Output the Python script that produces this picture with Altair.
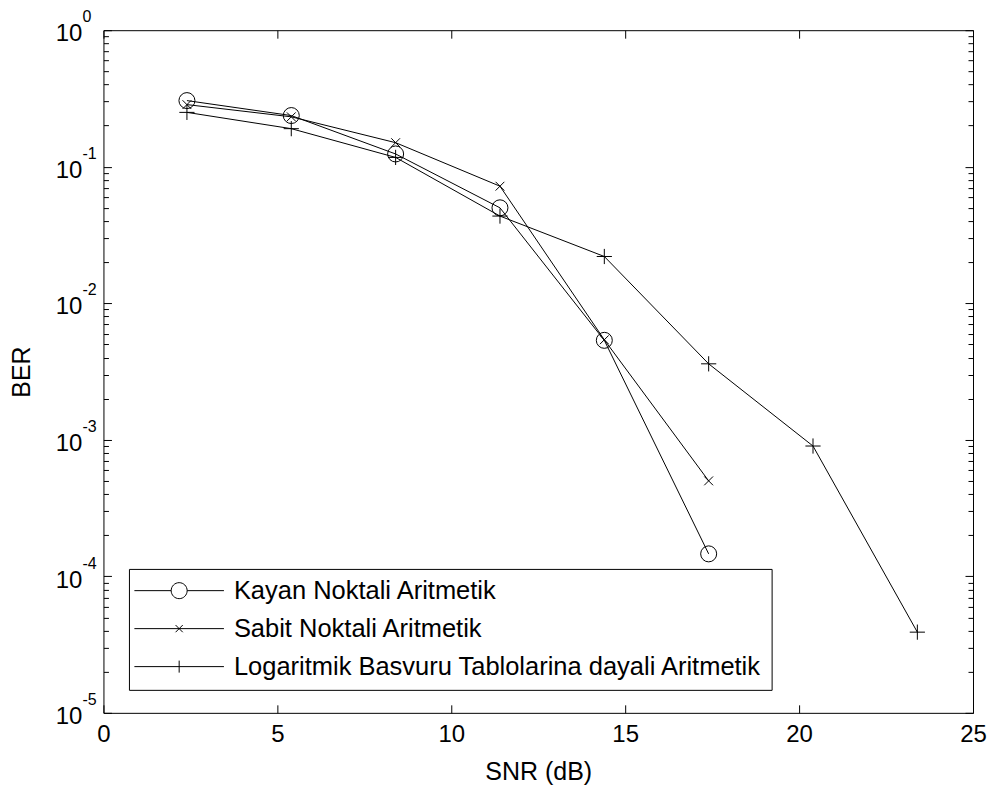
import altair as alt
import pandas as pd

# ---------------- data ----------------
series_names = [
    "Kayan Noktali Aritmetik",
    "Sabit Noktali Aritmetik",
    "Logaritmik Basvuru Tablolarina dayali Aritmetik",
]
snr_kayan = [2.4, 5.4, 8.4, 11.4, 14.4, 17.4]
ber_kayan = [0.305, 0.237, 0.124, 0.0500, 0.00535, 0.000146]
snr_sabit = [2.4, 5.4, 8.4, 11.4, 14.4, 17.4]
ber_sabit = [0.285, 0.232, 0.150, 0.0720, 0.0054, 0.00050]
snr_log = [2.4, 5.4, 8.4, 11.4, 14.4, 17.4, 20.4, 23.4]
ber_log = [0.250, 0.190, 0.117, 0.0435, 0.0220, 0.00360, 0.00090, 0.000039]

x_ticks = [0, 5, 10, 15, 20, 25]
y_decades = [1, 0.1, 0.01, 0.001, 0.0001, 0.00001]
y_exponents = ["0", "-1", "-2", "-3", "-4", "-5"]
y_minor = [m * d for d in [0.1, 0.01, 0.001, 0.0001, 0.00001] for m in range(1, 10)] + [1]

rows = []
for name, xs, ys in zip(series_names, [snr_kayan, snr_sabit, snr_log], [ber_kayan, ber_sabit, ber_log]):
    for xv, yv in zip(xs, ys):
        rows.append({"series": name, "snr": xv, "ber": yv})
df = pd.DataFrame(rows)

FONT = "Liberation Sans"
W, H = 870, 683

# marker shapes (unit = sqrt(size)/2 px)
marker_paths = [
    "circle",
    "M-0.55,-0.55L0.55,0.55M-0.55,0.55L0.55,-0.55",
    "M-0.95,0L0.95,0M0,-0.95L0,0.95",
]
legend_paths = [
    "M-5.6,0L-1,0M1,0L5.6,0M1,0A1,1,0,1,1,-1,0A1,1,0,1,1,1,0",
    "M-5.6,0L5.6,0M-0.45,-0.45L0.45,0.45M-0.45,0.45L0.45,-0.45",
    "M-5.6,0L5.6,0M0,-0.75L0,0.75",
]

x_scale = alt.Scale(domain=[0, 25], nice=False, zero=False)
y_scale = alt.Scale(type="log", domain=[0.00001, 1], nice=False)

decade_test = "abs(log(datum.value)/LN10 - round(log(datum.value)/LN10)) < 0.000001"
exp_expr = " : ".join(
    f"abs(datum.value - {v}) < {v}*0.001 ? '{e}'" for v, e in zip(y_decades, y_exponents)
) + " : ''"

base = alt.Chart(df)

lines = base.mark_line(color="black", strokeWidth=1).encode(
    x=alt.X(
        "snr:Q",
        scale=x_scale,
        axis=alt.Axis(
            orient="bottom",
            values=x_ticks,
            format="d",
            ticks=False,
            tickSize=0,
            domain=False,
            grid=True,
            gridColor="black",
            gridOpacity=1,
            gridWidth=1,
            gridDash=[8, H - 16, 8, 3000],
            labelFont=FONT,
            labelFontSize=24,
            labelColor="black",
            labelPadding=29,
            labelBaseline="alphabetic",
            labelFlush=False,
            labelOverlap=False,
            title="SNR (dB)",
            titleFont=FONT,
            titleFontSize=25,
            titleFontWeight="normal",
            titleColor="black",
            titleX=W / 2,
            titleY=67,
            titleAlign="center",
            titleBaseline="alphabetic",
        ),
    ),
    y=alt.Y(
        "ber:Q",
        scale=y_scale,
        axis=alt.Axis(
            orient="left",
            values=y_minor,
            labels=False,
            ticks=False,
            tickSize=0,
            domain=False,
            grid=True,
            gridColor="black",
            gridOpacity=1,
            gridWidth=1,
            gridDash={
                "condition": {"test": decade_test, "value": [8, W - 16, 8, 3000]},
                "value": [5, W - 10, 5, 3000],
            },
            title="BER",
            titleFont=FONT,
            titleFontSize=25,
            titleFontWeight="normal",
            titleColor="black",
            titleAngle=270,
            titleX=-74,
            titleY=H / 2,
            titleAlign="center",
            titleBaseline="alphabetic",
        ),
    ),
    detail="series:N",
)

markers = base.mark_point(filled=False, color="black", size=256, strokeWidth=1, opacity=1).encode(
    x=alt.X("snr:Q", scale=x_scale, axis=None),
    y=alt.Y(
        "ber:Q",
        scale=y_scale,
        axis=alt.Axis(
            orient="left",
            values=y_decades,
            labelExpr="'10'",
            ticks=False,
            tickSize=0,
            domain=False,
            grid=False,
            labelFont=FONT,
            labelFontSize=24,
            labelColor="black",
            labelPadding=21.5,
            labelAlign="right",
            labelBaseline="alphabetic",
            labelOffset=10.7,
            labelOverlap=False,
            labelFlush=False,
            labelBound=False,
            title=None,
        ),
    ),
    shape=alt.Shape(
        "series:N",
        scale=alt.Scale(domain=series_names, range=marker_paths),
        legend=None,
    ),
)

legend_layer = base.mark_point(filled=False, color="black", size=256, strokeWidth=1, opacity=1).encode(
    x=alt.X("snr:Q", scale=x_scale, axis=None),
    y=alt.Y(
        "ber:Q",
        scale=y_scale,
        axis=alt.Axis(
            orient="left",
            values=y_decades,
            labelExpr=exp_expr,
            ticks=False,
            tickSize=0,
            domain=False,
            grid=False,
            labelFont=FONT,
            labelFontSize=16,
            labelColor="black",
            labelPadding=21.5,
            labelAlign="left",
            labelBaseline="alphabetic",
            labelOffset=-8.3,
            labelOverlap=False,
            labelFlush=False,
            labelBound=False,
            title=None,
        ),
    ),
    shape=alt.Shape(
        "series:N",
        scale=alt.Scale(domain=series_names, range=legend_paths),
        legend=alt.Legend(
            title=None,
            orient="none",
            legendX=25.5,
            legendY=539,
            labelFont=FONT,
            labelFontSize=25.5,
            labelColor="black",
            labelLimit=2000,
            symbolSize=256,
            symbolStrokeWidth=1,
            symbolStrokeColor="black",
            symbolFillColor="transparent",
            strokeColor="black",
            fillColor="white",
            padding=9,
            rowPadding=11,
            symbolOffset=28.5,
            labelOffset=42,
        ),
    ),
).transform_filter("false")

chart = (
    alt.layer(lines, markers, legend_layer)
    .resolve_scale(shape="independent")
    .resolve_axis(x="independent", y="independent")
    .resolve_legend(shape="independent")
    .properties(
        width=W,
        height=H,
        autosize=alt.AutoSizeParams(type="none"),
        padding={"left": 95.5, "top": 22, "right": 14, "bottom": 76},
        background="white",
    )
    .configure(font=FONT)
    .configure_view(stroke="black", strokeWidth=1)
)

chart.save("out.html", embed_options={"renderer": "svg", "actions": False})
